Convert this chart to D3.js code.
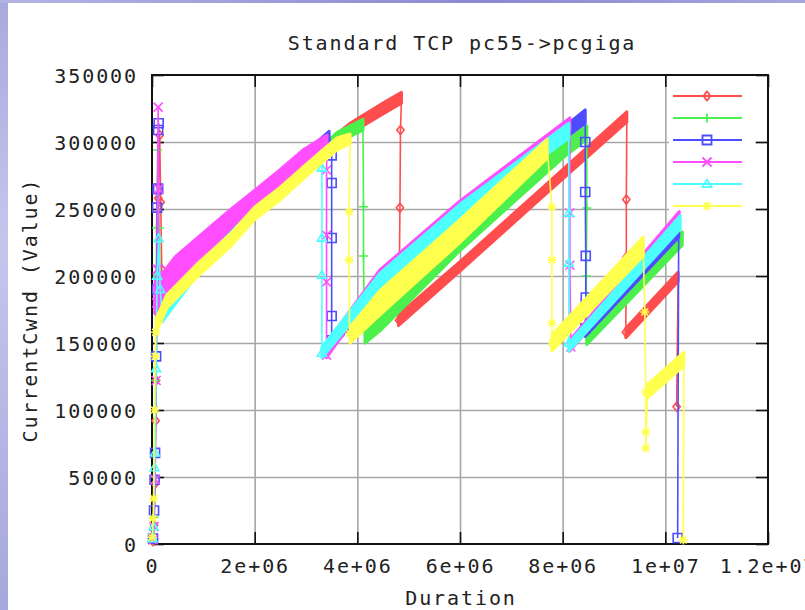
<!DOCTYPE html>
<html>
<head>
<meta charset="utf-8">
<script src="https://cdn.jsdelivr.net/npm/d3@7"></script>
<style>
  body { margin: 0; background: #fff; }
  svg { display: block; }
  text { font-family: "DejaVu Sans Mono", monospace; font-size: 20px; fill: #222; letter-spacing: 1.9px; }
</style>
</head>
<body>
<svg id="chart" width="805" height="610"></svg>
<script>
// x values are Duration in millions, y values are CurrentCwnd
const xTicks = [0, 2, 4, 6, 8, 10, 12];
const xTickLabels = ['0', '2e+06', '4e+06', '6e+06', '8e+06', '1e+07', '1.2e+07'];
const yTicks = [0, 50000, 100000, 150000, 200000, 250000, 300000, 350000];

// dense growth phases: [x, low edge, high edge] of the band of points
const redBands = [
  [[0.2, 175000, 184000], [0.88, 203000, 212000], [1.99, 246000, 255000], [3.08, 281000, 290000], [3.86, 306000, 314000], [4.11, 312000, 320000], [4.5, 321000, 329000], [4.86, 329000, 337000]],
  [[4.80, 163000, 171000], [6.0, 203700, 210700], [7.5, 255300, 262300], [9.25, 315000, 322500]],
  [[9.23, 154000, 161000], [10.25, 196000, 203000]]
];
const greenBands = [
  [[0.18, 172000, 180000], [0.88, 201000, 209000], [1.99, 244000, 252000], [3.08, 279000, 287000], [3.6, 299000, 307000], [4.11, 309000, 317000]],
  [[4.15, 150000, 161000], [4.44, 159000, 170000], [6.0, 219000, 229000], [8.0, 288000, 299000], [8.47, 302000, 312000]],
  [[8.47, 149000, 159000], [10.33, 223000, 233000]]
];
const blueBands = [
  [[0.06, 172000, 184000], [0.45, 198000, 206000], [1.52, 238000, 246000], [2.49, 268000, 276000], [3.0, 285000, 293000], [3.45, 299000, 308000]],
  [[3.50, 146000, 155000], [4.44, 188500, 197500], [6.0, 239500, 248500], [8.1, 304500, 313500], [8.44, 314000, 324000]],
  [[8.44, 155000, 165000], [10.26, 229000, 239000]]
];
const magentaBands = [
  [[0.06, 172000, 197000], [0.21, 180000, 202200], [0.45, 192000, 214200], [1.52, 226000, 249300], [2.01, 246000, 264200], [2.49, 260000, 279100], [2.94, 276000, 294000], [3.41, 292000, 305200]],
  [[3.40, 139000, 150000], [4.44, 195500, 204500], [6.0, 247000, 256000], [8.14, 309000, 318000]],
  [[8.14, 144000, 152000], [10.27, 240000, 248000]]
];
const cyanBands = [
  [[0.2, 166000, 174000], [0.88, 201000, 207000], [1.99, 243500, 250000], [2.49, 258500, 265000], [3.08, 278500, 285000], [3.31, 285000, 292000]],
  [[3.31, 139000, 147000], [4.44, 191000, 202000], [6.0, 242500, 253500], [8.12, 303000, 314000]],
  [[8.12, 144000, 150000], [10.29, 235000, 245000]]
];
const yellowBands = [
  [[0.08, 158200, 168000], [0.29, 176100, 186000], [0.88, 199300, 209000], [1.52, 221700, 231000], [1.99, 241800, 251000], [2.49, 256700, 266000], [3.08, 276900, 286000], [3.60, 294000, 303000], [3.86, 299000, 306000]],
  [[3.86, 150000, 162000], [4.44, 171000, 189000], [6.0, 225000, 242000], [7.70, 288000, 302000]],
  [[7.79, 144000, 156000], [9.57, 215000, 229000]],
  [[9.65, 109000, 119000], [10.36, 133000, 143000]]
];

// sparse points: slow start at the beginning, then each window drop
const redSlowStart = [[0.02, 2000], [0.04, 14000], [0.06, 45000], [0.07, 92000], [0.08, 122000], [0.10, 200000], [0.12, 258000], [0.15, 305000], [0.17, 255000], [0.19, 205000]];
const greenSlowStart = [[0.02, 3000], [0.04, 20000], [0.06, 50000], [0.07, 122000], [0.09, 236000], [0.11, 294000], [0.14, 236000], [0.16, 190000]];
const blueSlowStart = [[0.02, 4000], [0.04, 25000], [0.05, 48000], [0.06, 68000], [0.08, 140000], [0.10, 251000], [0.11, 265000], [0.12, 309000], [0.13, 314000], [0.12, 265000], [0.10, 190000]];
const magentaSlowStart = [[0.02, 3000], [0.04, 13000], [0.06, 48000], [0.08, 122000], [0.10, 205000], [0.12, 326000], [0.13, 265000], [0.12, 205000], [0.09, 180000]];
const cyanSlowStart = [[0.01, 4000], [0.03, 13000], [0.05, 57000], [0.06, 68000], [0.08, 131000], [0.10, 200000], [0.13, 228000], [0.16, 190000]];
const yellowSlowStart = [[0.0, 5000], [0.02, 19000], [0.03, 34000], [0.05, 100000], [0.06, 140000], [0.07, 158000]];

const redDrops = [
  [[4.84, 309000], [4.83, 251000], [4.81, 167000]],
  [[9.24, 257000], [9.24, 214000], [9.23, 158000]],
  [[10.22, 102500]]
];
const greenDrops = [
  [[4.12, 251700], [4.12, 214900], [4.14, 158000]],
  [[8.47, 250800], [8.46, 200000], [8.46, 155000]]
];
const blueDrops = [
  [[3.50, 290000], [3.50, 269400], [3.50, 228400], [3.50, 170200], [3.50, 152000]],
  [[8.44, 300000], [8.44, 262700], [8.45, 215000], [8.45, 184000], [8.44, 161000]],
  [[10.24, 4500]]
];
const magentaDrops = [
  [[3.40, 279100], [3.40, 230600], [3.40, 195500], [3.40, 141000]],
  [[8.14, 247000], [8.14, 208000], [8.16, 147000]]
];
const cyanDrops = [
  [[3.31, 280600], [3.31, 228400], [3.31, 200700], [3.31, 142500]],
  [[8.12, 247000], [8.12, 209700], [8.12, 150000]]
];
const yellowDrops = [
  [[3.84, 248000], [3.84, 212000], [3.85, 157000]],
  [[7.79, 251500], [7.79, 212000], [7.79, 165000], [7.80, 150000]],
  [[9.60, 173100], [9.62, 113400], [9.62, 83600], [9.62, 71600], [9.65, 113000]],
  [[10.35, 3000]]
];

const series = [
  { color: '#ff4d4d', symbol: 'diamond', slowStart: redSlowStart, bands: redBands, drops: redDrops },
  { color: '#4cf04c', symbol: 'plus', slowStart: greenSlowStart, bands: greenBands, drops: greenDrops },
  { color: '#4d4dff', symbol: 'box', slowStart: blueSlowStart, bands: blueBands, drops: blueDrops },
  { color: '#ff4dff', symbol: 'cross', slowStart: magentaSlowStart, bands: magentaBands, drops: magentaDrops },
  { color: '#4dffff', symbol: 'triangle', slowStart: cyanSlowStart, bands: cyanBands, drops: cyanDrops },
  { color: '#ffff4d', symbol: 'star', slowStart: yellowSlowStart, bands: yellowBands, drops: yellowDrops }
];

const svg = d3.select('#chart');

// slide background
const defs = svg.append('defs');
const lg = defs.append('linearGradient').attr('id', 'leftEdge').attr('x1', 0).attr('y1', 0).attr('x2', 0).attr('y2', 1);
lg.append('stop').attr('offset', '0%').attr('stop-color', '#a9a9de');
lg.append('stop').attr('offset', '40%').attr('stop-color', '#c6c6ec');
lg.append('stop').attr('offset', '100%').attr('stop-color', '#a4a8dc');
const tg = defs.append('linearGradient').attr('id', 'topEdge').attr('x1', 0).attr('y1', 0).attr('x2', 1).attr('y2', 0);
tg.append('stop').attr('offset', '0%').attr('stop-color', '#b4b4e4');
tg.append('stop').attr('offset', '60%').attr('stop-color', '#8a8ad2');
tg.append('stop').attr('offset', '100%').attr('stop-color', '#a6a6de');
svg.append('rect').attr('width', 805).attr('height', 610).attr('fill', '#fff');
svg.append('rect').attr('width', 8).attr('height', 610).attr('fill', 'url(#leftEdge)');
svg.append('rect').attr('width', 805).attr('height', 3).attr('fill', 'url(#topEdge)');

const x = d3.scaleLinear().domain([0, 12]).range([152, 768]);
const y = d3.scaleLinear().domain([0, 350000]).range([544, 75]);

// grid
svg.append('g')
    .attr('transform', `translate(0,${y(0)})`)
    .call(d3.axisBottom(x).tickValues(xTicks.slice(1, -1)).tickSize(-(y(0) - y(350000))).tickFormat(''))
    .call(g => g.select('.domain').remove())
    .selectAll('line').attr('stroke', '#a6a6a6').attr('stroke-width', 1.6);
svg.append('g')
    .attr('transform', `translate(${x(0)},0)`)
    .call(d3.axisLeft(y).tickValues(yTicks.slice(1, -1)).tickSize(-(x(12) - x(0))).tickFormat(''))
    .call(g => g.select('.domain').remove())
    .selectAll('line').attr('stroke', '#a6a6a6').attr('stroke-width', 1.6);

// ticks on all four sides, pointing inward
function styleAxis(g) {
    g.select('.domain').remove();
    g.selectAll('line').attr('stroke', '#111').attr('stroke-width', 1.6);
    g.attr('font-size', null).attr('font-family', null);
}
svg.append('g')
    .attr('transform', `translate(0,${y(0)})`)
    .call(d3.axisBottom(x).tickValues(xTicks).tickSizeInner(-12).tickSizeOuter(0).tickFormat((d, i) => xTickLabels[i]))
    .call(styleAxis)
    .selectAll('text').attr('y', 29).attr('dy', null);
svg.append('g')
    .attr('transform', `translate(0,${y(350000)})`)
    .call(d3.axisTop(x).tickValues(xTicks).tickSizeInner(-12).tickSizeOuter(0).tickFormat(''))
    .call(styleAxis);
svg.append('g')
    .attr('transform', `translate(${x(0)},0)`)
    .call(d3.axisLeft(y).tickValues(yTicks).tickSizeInner(-12).tickSizeOuter(0).tickFormat(d3.format('d')))
    .call(styleAxis)
    .selectAll('text').attr('x', -14).attr('dy', '0.36em');
svg.append('g')
    .attr('transform', `translate(${x(12)},0)`)
    .call(d3.axisRight(y).tickValues(yTicks).tickSizeInner(-12).tickSizeOuter(0).tickFormat(''))
    .call(styleAxis);

// border
svg.append('rect')
    .attr('x', x(0)).attr('y', y(350000))
    .attr('width', x(12) - x(0)).attr('height', y(0) - y(350000))
    .attr('fill', 'none').attr('stroke', '#111').attr('stroke-width', 2);

// titles
svg.append('text').attr('x', 462).attr('y', 50).attr('text-anchor', 'middle').text('Standard TCP pc55->pcgiga');
svg.append('text').attr('x', 461).attr('y', 605).attr('text-anchor', 'middle').text('Duration');
svg.append('text').attr('transform', 'translate(37,310) rotate(-90)').attr('text-anchor', 'middle').text('CurrentCwnd (Value)');

// marker glyphs
function symbolPath(type, cx, cy) {
    const s = 4.5;
    switch (type) {
        case 'diamond': return `M${cx},${cy - s}L${cx + s * 0.8},${cy}L${cx},${cy + s}L${cx - s * 0.8},${cy}Z`;
        case 'plus': return `M${cx - s},${cy}L${cx + s},${cy}M${cx},${cy - s}L${cx},${cy + s}`;
        case 'box': return `M${cx - s},${cy - s}H${cx + s}V${cy + s}H${cx - s}Z`;
        case 'cross': return `M${cx - s},${cy - s}L${cx + s},${cy + s}M${cx + s},${cy - s}L${cx - s},${cy + s}`;
        case 'triangle': return `M${cx},${cy - s}L${cx + s},${cy + s * 0.7}L${cx - s},${cy + s * 0.7}Z`;
        case 'star': return `M${cx - s},${cy}L${cx + s},${cy}M${cx},${cy - s}L${cx},${cy + s}` +
            `M${cx - s * 0.75},${cy - s * 0.75}L${cx + s * 0.75},${cy + s * 0.75}M${cx + s * 0.75},${cy - s * 0.75}L${cx - s * 0.75},${cy + s * 0.75}`;
    }
}

// legend (entries have no titles in the source plot)
const legendRows = [96, 118, 140, 162, 184, 206];
svg.append('rect').attr('x', 669).attr('y', 84).attr('width', 86).attr('height', 132).attr('fill', '#fff');
const legend = svg.append('g');
series.forEach((s, i) => {
    const ly = legendRows[i];
    legend.append('line').attr('x1', 673).attr('x2', 742).attr('y1', ly).attr('y2', ly)
        .attr('stroke', s.color).attr('stroke-width', 1.8);
    legend.append('path').attr('d', symbolPath(s.symbol, 707, ly))
        .attr('fill', 'none').attr('stroke', s.color).attr('stroke-width', 1.8);
});

// data
const line = d3.line().x(d => x(d[0])).y(d => y(d[1]));
const band = d3.area().x(d => x(d[0])).y0(d => y(d[1])).y1(d => y(d[2]));
const mid = v => [v[0], (v[1] + v[2]) / 2];

series.forEach(s => {
    const g = svg.append('g');
    const segs = [s.slowStart.concat([mid(s.bands[0][0])])];
    s.bands.forEach((b, i) => {
        segs.push(b.map(mid));
        if (s.drops[i]) {
            const next = s.bands[i + 1] ? [mid(s.bands[i + 1][0])] : [];
            segs.push([mid(b[b.length - 1])].concat(s.drops[i], next));
        }
    });
    g.selectAll('path.seg')
        .data(segs)
        .enter()
        .append('path')
        .attr('d', line)
        .attr('fill', 'none')
        .attr('stroke', s.color)
        .attr('stroke-width', 1.6);

    g.selectAll('path.band')
        .data(s.bands)
        .enter()
        .append('path')
        .attr('d', band)
        .attr('fill', s.color)
        .attr('stroke', s.color)
        .attr('stroke-width', 3)
        .attr('stroke-linejoin', 'round');

    const pts = s.slowStart.concat(...s.drops);
    g.selectAll('path.pt')
        .data(pts)
        .enter()
        .append('path')
        .attr('d', d => symbolPath(s.symbol, x(d[0]), y(d[1])))
        .attr('fill', 'none')
        .attr('stroke', s.color)
        .attr('stroke-width', 1.6);
});
</script>
</body>
</html>
